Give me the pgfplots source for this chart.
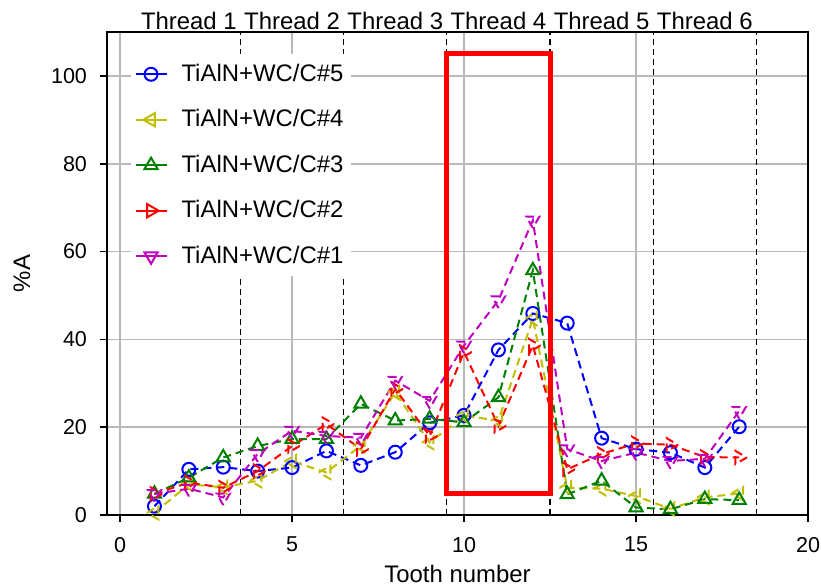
\documentclass[border=0pt]{standalone}
\usepackage{fontspec}
\setmainfont{Liberation Sans}
\usepackage{pgfplots}
\pgfplotsset{compat=1.18}
\usetikzlibrary{calc}
\definecolor{myyellow}{rgb}{0.75,0.75,0}
\definecolor{mygreen}{rgb}{0,0.5,0}
\definecolor{mymagenta}{rgb}{0.75,0,0.75}
\pgfplotstableread{
x  c5    c4    c3    c2    c1
1  2.0   0.5   4.8   4.8   4.8
2  10.4  7.0   8.5   7.4   6.0
3  10.9  6.3   13.1  6.2   4.0
4  10.0  7.8   15.7  10.0  13.9
5  10.8  12.2  17.3  15.7  19.2
6  14.6  9.7   17.3  20.7  18.0
7  11.3  15.8  25.3  15.0  17.6
8  14.3  27.9  21.5  28.7  30.6
9  21.0  16.5  21.9  18.0  26.0
10 22.7  22.6  21.1  37.1  38.6
11 37.6  21.5  26.8  20.3  48.9
12 45.9  44.7  55.7  38.6  67.1
13 43.7  6.2   4.7   10.4  15.0
14 17.5  6.0   7.8   13.9  12.3
15 15.0  4.3   1.7   16.3  14.2
16 14.2  1.4   1.3   16.0  12.3
17 10.8  4.0   3.6   13.2  12.8
18 20.1  4.9   3.4   13.1  23.7
}\datatable
\begin{document}
\begin{tikzpicture}
\begin{axis}[
  scale only axis, width=350.5bp, height=241.5bp,
  xmin=-0.38, xmax=20, ymin=0, ymax=110,
  xtick={0,5,10,15,20}, ytick={0,20,40,60,80,100},
  tick pos=left, tick align=outside, major tick length=3.5bp,
  grid=major, major grid style={color=black!28, line width=0.8bp},
  axis line style={line width=0.8bp}, tick style={black, line width=0.8bp},
  ticklabel style={font=\fontsize{10.8}{12}\selectfont},
  xticklabel style={yshift=-4bp},
  yticklabel style={xshift=-3bp},
  /pgf/number format/assume math mode=true,
  label style={font=\fontsize{12}{14}\selectfont},
  xlabel={Tooth number}, ylabel={\%A},
  xlabel style={yshift=0.5bp},
  ylabel style={yshift=3.5bp},
  clip=false,
  legend style={at={(rel axis cs:0.033,0.955)}, anchor=north west, draw=none, fill=white,
    font=\fontsize{12}{14}\selectfont, row sep=8.6bp, inner xsep=2bp, inner ysep=3bp,
    /tikz/every odd column/.append style={column sep=5bp}},
  legend cell align=left,
  legend image code/.code={\draw[mark repeat=2,mark phase=2,#1,solid] plot coordinates {(0bp,0bp) (7.75bp,0bp) (15.5bp,0bp)};},
  every axis plot/.append style={line width=1bp, dash pattern=on 4bp off 2.5bp, mark size=3.25bp, mark options={solid, line width=1bp}},
]
\foreach \xv in {3.5,6.5,9.5,12.5,15.5,18.5} {
  \edef\temp{\noexpand\draw[black, line width=0.6bp, dash pattern=on 3bp off 2bp] (axis cs:\xv,0) -- (axis cs:\xv,110);}
  \temp
}
\addplot[blue, mark=o] table[x=x,y=c5] {\datatable};
\addlegendentry{TiAlN+WC/C\#5}
\addplot[myyellow, mark=triangle, mark size=3.8bp, mark options={rotate=90}] table[x=x,y=c4] {\datatable};
\addlegendentry{TiAlN+WC/C\#4}
\addplot[mygreen, mark=triangle, mark size=3.8bp] table[x=x,y=c3] {\datatable};
\addlegendentry{TiAlN+WC/C\#3}
\addplot[red, mark=triangle, mark size=3.8bp, mark options={rotate=-90}] table[x=x,y=c2] {\datatable};
\addlegendentry{TiAlN+WC/C\#2}
\addplot[mymagenta, mark=triangle, mark size=3.8bp, mark options={rotate=180}] table[x=x,y=c1] {\datatable};
\addlegendentry{TiAlN+WC/C\#1}
\draw[red, line width=2.5bp] (axis cs:9.5,5) rectangle (axis cs:12.5,105);
\foreach \xv/\lab in {2/Thread 1,5/Thread 2,8/Thread 3,11/Thread 4,14/Thread 5,17/Thread 6} {
  \edef\temp{\noexpand\node[anchor=south, inner sep=1bp, font=\noexpand\fontsize{12}{14}\noexpand\selectfont] at (axis cs:\xv,110) {\lab};}
  \temp
}
\end{axis}
\pgfresetboundingbox
\path[use as bounding box] ($(current axis.south west)+(-53.5bp,-36.5bp)$) rectangle ($(current axis.north east)+(6.5bp,16bp)$);
\end{tikzpicture}
\end{document}
